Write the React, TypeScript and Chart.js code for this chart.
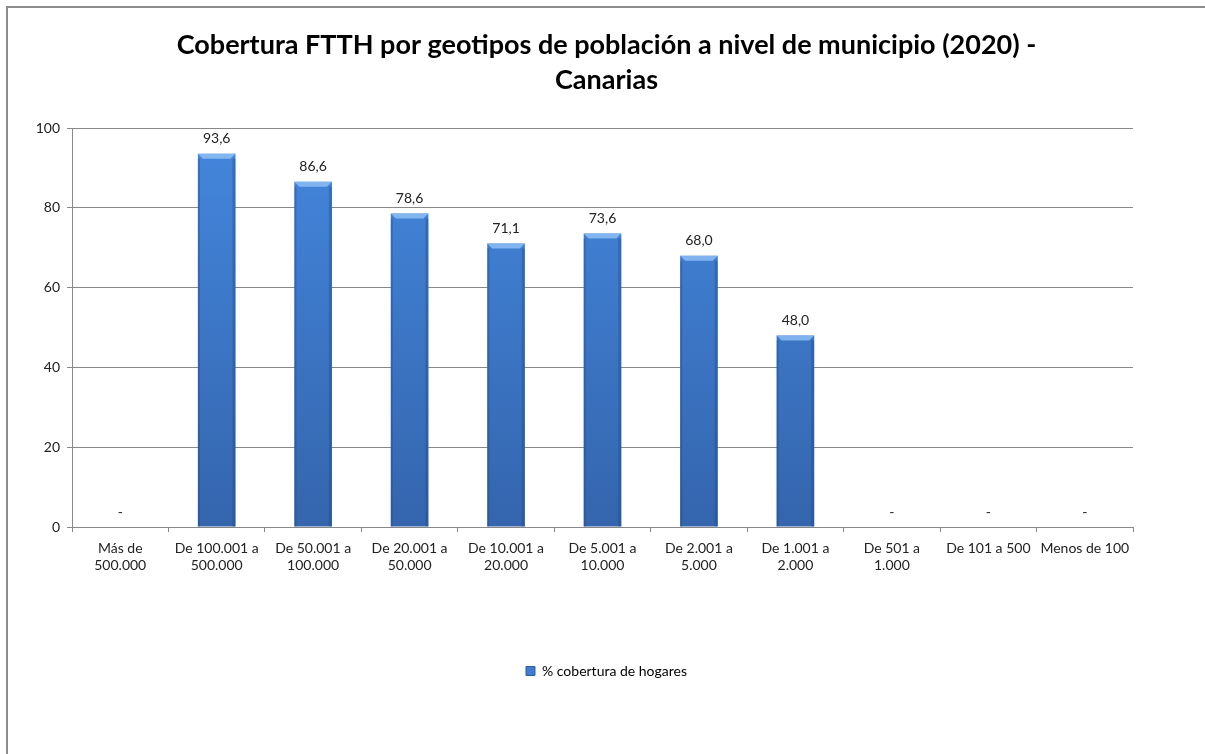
import React, { useEffect, useRef } from "react";
import { Chart, registerables } from "chart.js";

Chart.register(...registerables);

const titleLines = [
  "Cobertura FTTH por geotipos de población a nivel de municipio (2020) -",
  "Canarias",
];
const categories: (string | string[])[] = [
  ["Más de", "500.000"],
  ["De 100.001 a", "500.000"],
  ["De 50.001 a", "100.000"],
  ["De 20.001 a", "50.000"],
  ["De 10.001 a", "20.000"],
  ["De 5.001 a", "10.000"],
  ["De 2.001 a", "5.000"],
  ["De 1.001 a", "2.000"],
  ["De 501 a", "1.000"],
  "De 101 a 500",
  "Menos de 100",
];
const seriesName = "% cobertura de hogares";
const coverage = [0, 93.6, 86.6, 78.6, 71.1, 73.6, 68.0, 48.0, 0, 0, 0];
const yTicks = [0, 20, 40, 60, 80, 100];

const FONT = "Lato, 'Open Sans', sans-serif";

const labelPlugin = {
  id: "valueLabels",
  afterDatasetsDraw(chart: any) {
    const ctx = chart.ctx;
    const meta = chart.getDatasetMeta(0);
    const data = chart.data.datasets[0].data as number[];
    ctx.save();
    meta.data.forEach((bar: any, i: number) => {
      const v = data[i];
      if (!v) return;
      const half = bar.width / 2;
      const l = bar.x - half;
      const r = bar.x + half;
      const t = bar.y;
      const b = bar.base;
      const bev = 5;
      ctx.fillStyle = "rgba(140,190,245,0.85)";
      ctx.beginPath();
      ctx.moveTo(l, t);
      ctx.lineTo(r, t);
      ctx.lineTo(r - bev, t + bev);
      ctx.lineTo(l + bev, t + bev);
      ctx.closePath();
      ctx.fill();
      ctx.fillStyle = "rgba(30,70,130,0.35)";
      ctx.fillRect(r - 3, t + bev, 3, b - t - bev);
      ctx.fillRect(l, t + bev, 2, b - t - bev);
    });
    ctx.fillStyle = "#222";
    ctx.font = "14px " + FONT;
    ctx.textAlign = "center";
    ctx.textBaseline = "bottom";
    meta.data.forEach((bar: any, i: number) => {
      const v = data[i];
      const txt = v ? v.toFixed(1).replace(".", ",") : "-";
      ctx.fillText(txt, bar.x, bar.y - 8);
    });
    ctx.restore();
  },
};

export default function App() {
  const ref = useRef<HTMLCanvasElement | null>(null);
  useEffect(() => {
    if (!ref.current) return;
    const chart = new Chart(ref.current, {
      type: "bar",
      data: {
        labels: categories as any,
        datasets: [
          {
            label: seriesName,
            data: coverage,
            backgroundColor: (c: any) => {
              const area = c.chart.chartArea;
              if (!area) return "#3f7bd0";
              const g = c.chart.ctx.createLinearGradient(0, area.top, 0, area.bottom);
              g.addColorStop(0, "#4487de");
              g.addColorStop(1, "#3465ad");
              return g;
            },
            borderWidth: 0,
            barPercentage: 0.78,
            categoryPercentage: 0.5,
            yAxisID: "y",
          },
        ],
      },
      options: {
        responsive: false,
        animation: false,
        layout: { padding: { left: 0, right: 0, top: 0, bottom: 66 } },
        plugins: {
          title: {
            display: true,
            text: titleLines,
            color: "#000",
            font: { family: FONT, size: 27, weight: "bold", lineHeight: 1.3 },
            padding: { top: 20, bottom: 30 },
          },
          legend: {
            display: true,
            position: "bottom",
            labels: {
              boxWidth: 9,
              boxHeight: 9,
              color: "#222",
              font: { family: FONT, size: 14 },
              generateLabels: () => [
                {
                  text: seriesName,
                  fillStyle: "#3f7bd0",
                  strokeStyle: "#2f5f9e",
                  lineWidth: 1,
                  datasetIndex: 0,
                } as any,
              ],
            },
          },
          tooltip: { enabled: false },
        },
        scales: {
          x: {
            grid: {
              display: true,
              drawOnChartArea: false,
              drawTicks: true,
              tickLength: 5,
              color: "#888",
              offset: true,
            },
            border: { color: "#888", width: 1 },
            ticks: {
              color: "#222",
              font: { family: FONT, size: 14 },
              maxRotation: 0,
              autoSkip: false,
              padding: 8,
            },
            afterFit: (s: any) => {
              s.height = 127;
            },
          },
          y: {
            min: 0,
            max: 100,
            afterBuildTicks: (s: any) => {
              s.ticks = yTicks.map((v) => ({ value: v }));
            },
            grid: { color: "#888", tickLength: 5 },
            border: { color: "#888", width: 1 },
            ticks: {
              color: "#222",
              font: { family: FONT, size: 14 },
              padding: 7,
            },
            afterFit: (s: any) => {
              s.width = 64;
            },
          },
          yRight: {
            position: "right",
            display: true,
            min: 0,
            max: 100,
            grid: { display: false, drawTicks: false },
            border: { display: false },
            ticks: { display: false },
            afterFit: (s: any) => {
              s.width = 72;
            },
          },
        },
      },
      plugins: [labelPlugin],
    });
    return () => chart.destroy();
  }, []);
  return (
    <div
      style={{
        position: "fixed",
        left: 6,
        top: 6,
        width: 1400,
        height: 900,
        overflow: "hidden",
        borderLeft: "2px solid #8c8c8c",
        borderTop: "2px solid #8c8c8c",
        background: "#fff",
      }}
    >
      <canvas ref={ref} width={1197} height={746} style={{ display: "block" }} />
    </div>
  );
}
